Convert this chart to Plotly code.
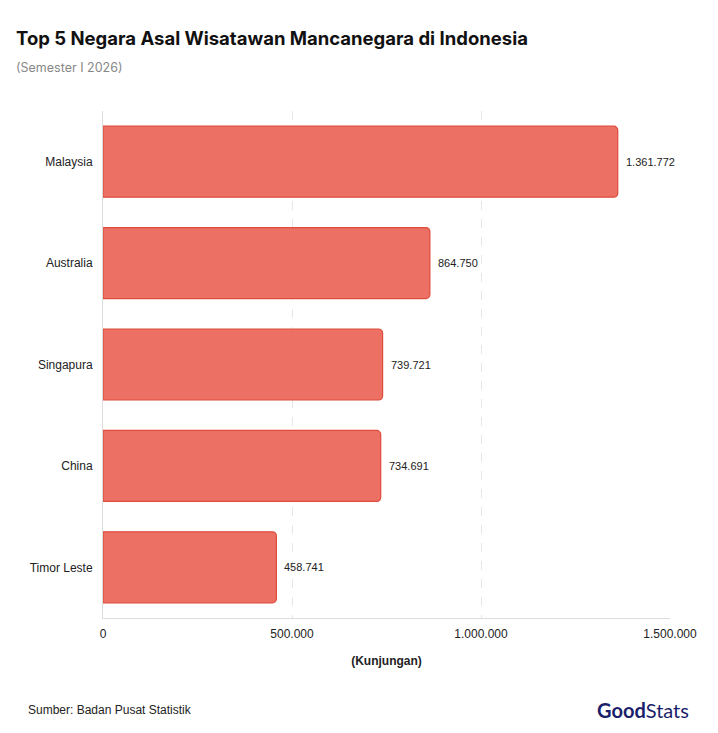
import plotly.graph_objects as go

countries = ["Malaysia", "Australia", "Singapura", "China", "Timor Leste"]
visitors = [1361772, 864750, 739721, 734691, 458741]
x_ticks = [0, 500000, 1000000, 1500000]
x_tick_labels = ["0", "500.000", "1.000.000", "1.500.000"]

def fmt(v):
    return f"{v:,}".replace(",", ".")

# page is rendered with an 8px body margin
OFF = 8
W, H = 718, 733
ml, mr, mt, mb = 103 - OFF, 48 + OFF, 111 - OFF, 115 + OFF
pw, ph = W - ml - mr, H - mt - mb

def px_x(x):
    return (x - OFF - ml) / pw

def px_y(y):
    return 1 - (y - OFF - mt) / ph

fig = go.Figure()
fig.add_trace(go.Bar(
    y=countries, x=visitors, orientation="h",
    marker=dict(color="#EC7063", line=dict(color="#DE4C3C", width=1.2), cornerradius=4),
    width=0.70, hoverinfo="skip",
))

for c, v in zip(countries, visitors):
    fig.add_annotation(x=v, y=c, xref="x", yref="y", text=fmt(v), showarrow=False,
                       xanchor="left", xshift=6, font=dict(family="Liberation Sans, Arial", size=11, color="#222"))

fig.update_layout(
    width=W, height=H,
    margin=dict(l=ml, r=mr, t=mt, b=mb),
    paper_bgcolor="white", plot_bgcolor="white",
    showlegend=False,
    font=dict(family="Liberation Sans, Arial", color="#222"),
)
fig.add_annotation(xref="paper", yref="paper", x=px_x(14), y=px_y(38),
                   xanchor="left", yanchor="middle", showarrow=False,
                   text="<b>Top 5 Negara Asal Wisatawan Mancanegara di Indonesia</b>",
                   font=dict(family="Inter, Lato", size=18.5, color="#111"))
fig.add_annotation(xref="paper", yref="paper", x=px_x(14), y=px_y(67),
                   xanchor="left", yanchor="middle", showarrow=False,
                   text="(Semester I 2026)", font=dict(family="Inter, Lato", size=12.5, color="#888"))
fig.add_annotation(xref="paper", yref="paper", x=px_x(26), y=px_y(710),
                   xanchor="left", yanchor="middle", showarrow=False,
                   text="Sumber: Badan Pusat Statistik", font=dict(family="Liberation Sans, Arial", size=12, color="#222"))
fig.add_annotation(xref="paper", yref="paper", x=px_x(691), y=px_y(710),
                   xanchor="right", yanchor="middle", showarrow=False,
                   text="<b>Good</b>Stats", font=dict(family="Lato, Inter", size=20, color="#1B1F6B"))

fig.update_xaxes(
    range=[0, 1500000], tickvals=x_ticks, ticktext=x_tick_labels,
    showgrid=True, gridcolor="#E6E6E6", griddash="dash", gridwidth=1,
    zeroline=False, showline=True, linecolor="#DDDDDD", linewidth=1,
    ticks="", ticklabelstandoff=5,
    tickfont=dict(size=12, color="#222"),
    title=dict(text="<b>(Kunjungan)</b>", font=dict(size=12, color="#222"), standoff=16),
    fixedrange=True,
)
fig.update_yaxes(
    autorange="reversed", showgrid=False, zeroline=False,
    showline=True, linecolor="#DDDDDD", linewidth=1,
    ticks="", ticklabelstandoff=7,
    tickfont=dict(size=12, color="#222"), fixedrange=True,
)

fig.write_html("out.html")
